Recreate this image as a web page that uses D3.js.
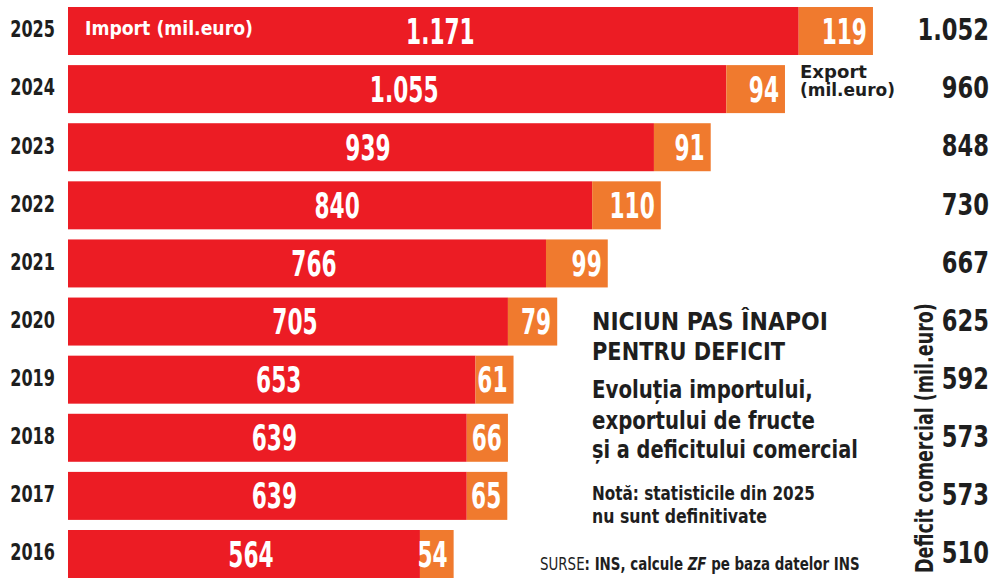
<!DOCTYPE html>
<html>
<head>
<meta charset="utf-8">
<script src="https://cdn.jsdelivr.net/npm/d3@7"></script>
<style>
  html, body { margin: 0; padding: 0; background: #fff; }
  svg text { font-family: "DejaVu Sans", sans-serif; font-weight: bold; }
</style>
</head>
<body>
<svg id="chart" width="995" height="579"></svg>
<script>
const years = ['2025', '2024', '2023', '2022', '2021', '2020', '2019', '2018', '2017', '2016'];
const importValues = [1171, 1055, 939, 840, 766, 705, 653, 639, 639, 564];
const exportValues = [119, 94, 91, 110, 99, 79, 61, 66, 65, 54];
const deficitValues = [1052, 960, 848, 730, 667, 625, 592, 573, 573, 510];

const fmt = v => d3.format(',')(v).replace(',', '.');

const svg = d3.select('#chart');
const RED = '#ec1c24', ORANGE = '#f07a2e', INK = '#1e1e1e';

// no condensed face installed, so squeeze the glyphs horizontally
function squeeze(sel, k) {
  sel.each(function () {
    const t = d3.select(this);
    const x0 = +t.attr('x') || 0, y0 = +t.attr('y') || 0;
    t.attr('x', 0).attr('y', 0).attr('transform', `translate(${x0},${y0}) scale(${k},1)`);
  });
}
// same, but squeeze to a target width
function fitTo(sel, w) {
  sel.each(function () {
    squeeze(d3.select(this), w / this.getComputedTextLength());
  });
}

const x = d3.scaleLinear().domain([0, 1290]).range([68, 68 + 1290 * 0.624]);
const y = d3.scaleBand().domain(years).range([7, 578]).paddingInner(0.174).paddingOuter(0);

const rows = years.map((year, i) => ({ year, imp: importValues[i], exp: exportValues[i], def: deficitValues[i] }));

const row = svg.selectAll('g.row').data(rows).join('g')
  .attr('class', 'row')
  .attr('transform', d => `translate(0,${y(d.year)})`);

row.append('rect')
  .attr('x', x(0)).attr('width', d => x(d.imp) - x(0))
  .attr('height', y.bandwidth()).attr('fill', RED);
row.append('rect')
  .attr('x', d => x(d.imp)).attr('width', d => x(d.imp + d.exp) - x(d.imp))
  .attr('height', y.bandwidth()).attr('fill', ORANGE);

const mid = y.bandwidth() / 2;
row.append('text')
  .attr('x', 55).attr('y', mid - 2).attr('dy', '0.36em')
  .attr('text-anchor', 'end').attr('font-size', 23).attr('fill', INK)
  .text(d => d.year)
  .call(squeeze, 0.7);
row.append('text')
  .attr('x', d => (x(0) + x(d.imp)) / 2 + 7).attr('y', mid).attr('dy', '0.36em')
  .attr('text-anchor', 'middle').attr('font-size', 35).attr('fill', '#fff')
  .text(d => fmt(d.imp))
  .call(squeeze, 0.62);
row.append('text')
  .attr('x', d => x(d.imp + d.exp) - 6).attr('y', mid).attr('dy', '0.36em')
  .attr('text-anchor', 'end').attr('font-size', 35).attr('fill', '#fff')
  .text(d => d.exp)
  .call(squeeze, 0.62);
row.append('text')
  .attr('x', 989).attr('y', mid - 2).attr('dy', '0.36em')
  .attr('text-anchor', 'end').attr('font-size', 31).attr('fill', INK)
  .text(d => fmt(d.def))
  .call(squeeze, 0.73);

// legends
svg.append('text').attr('x', 85).attr('y', 35)
  .attr('font-size', 20).attr('fill', '#fff').text('Import (mil.euro)')
  .call(fitTo, 168);
svg.append('text').attr('x', 800).attr('y', 78)
  .attr('font-size', 17).attr('fill', INK).text('Export')
  .call(fitTo, 67);
svg.append('text').attr('x', 800).attr('y', 96)
  .attr('font-size', 17).attr('fill', INK).text('(mil.euro)')
  .call(fitTo, 95);

const defLab = svg.append('g').attr('transform', 'translate(933,438) rotate(-90)');
defLab.append('text')
  .attr('x', -135).attr('font-size', 25).attr('fill', INK)
  .text('Deficit comercial (mil.euro)')
  .call(fitTo, 270);

// annotation block
const note = svg.append('g').attr('fill', INK);
[['NICIUN PAS ÎNAPOI', 330, 25, 236], ['PENTRU DEFICIT', 360, 25, 193],
 ['Evoluția importului,', 398, 25, 221], ['exportului de fructe', 429, 25, 223],
 ['și a deficitului comercial', 458, 25, 266],
 ['Notă: statisticile din 2025', 500, 19, 223], ['nu sunt definitivate', 523, 19, 175]]
  .forEach(([t, yy, fs, w]) => note.append('text')
    .attr('x', 592).attr('y', yy).attr('font-size', fs).text(t)
    .call(fitTo, w));

const src = note.append('text').attr('x', 540).attr('y', 570).attr('font-size', 17);
src.append('tspan').attr('font-weight', 'normal').text('SURSE');
src.append('tspan').text(': INS, calcule ');
src.append('tspan').attr('font-style', 'italic').text('ZF');
src.append('tspan').text(' pe baza datelor INS');
src.call(fitTo, 320);
</script>
</body>
</html>
